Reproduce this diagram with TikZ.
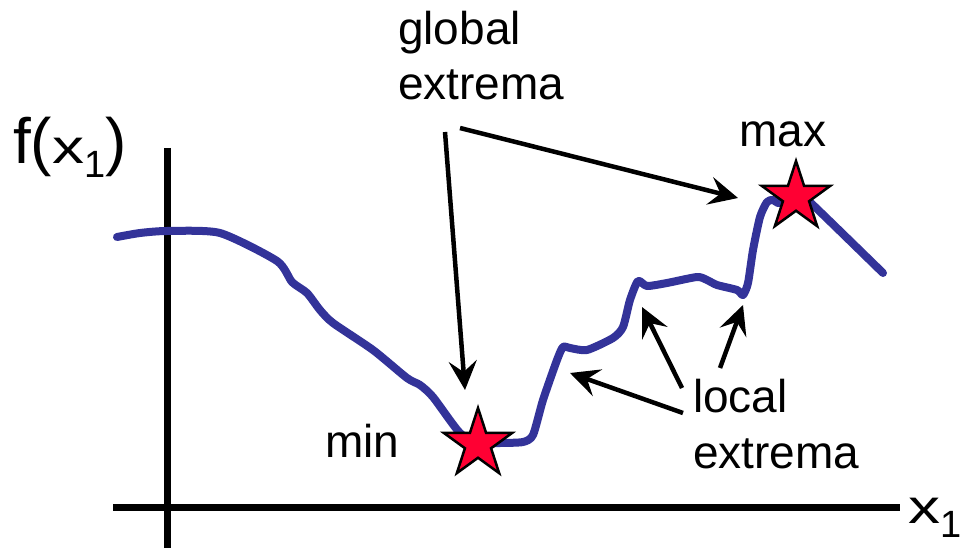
\documentclass[tikz,border=0pt]{standalone}
\usepackage{graphicx}
\usepackage{fontspec}
\setmainfont{Liberation Sans}
\usetikzlibrary{arrows.meta,shapes.geometric}
\definecolor{curveblue}{RGB}{51,51,153}
\definecolor{starred}{RGB}{255,0,51}
\begin{document}
\begin{tikzpicture}[x=1pt,y=-1pt,
  axis/.style={line width=7pt},
  curve/.style={line width=8pt, draw=curveblue, line join=round, line cap=round},
  ptr/.style={line width=4.5pt, -{Stealth[length=29pt,width=28pt,inset=11pt]}},
  lbl/.style={inner sep=0pt, anchor=base west, font=\fontsize{46}{55}\selectfont},
  big/.style={inner sep=0pt, anchor=base west, font=\fontsize{64}{70}\selectfont},
  extremum/.style={star, star points=5, star point ratio=2.618, minimum size=72pt,
    inner sep=0pt, fill=starred, draw=black, line width=2.5pt}]
\useasboundingbox (0,0) rectangle (960,548);

% axes
\coordinate (ytop) at (167,148);
\coordinate (ybot) at (167,548);
\coordinate (xl) at (113,507);
\coordinate (xr) at (900,507);
\draw[axis] (ytop) -- (ybot);
\draw[axis] (xl) -- (xr);

% curve
\draw[curve] plot[smooth, tension=0.4] coordinates {
  (117,237) (140,233) (167,231) (220,233) (277,261) (292,282) (307,293)
  (320,310) (333,323) (373,350) (407,378) (420,385) (433,397) (460,433)
  (480,443) (500,443) (523,442) (533,435) (543,400) (557,360) (563,347)
  (570,348) (587,350) (613,338) (623,327) (630,300) (638,281) (647,286)
  (667,283) (697,277) (707,280) (717,285) (737,290) (743,295) (748,283)
  (753,250) (760,217) (767,202) (773,200) (780,203) (796,191) (813,205)
  (883,273)};

% stars
\node[extremum] (minstar) at (478,444) {};
\node[extremum] (maxstar) at (796,197) {};

% labels
\node[big] (ylabel) at (13,164) {f(\scalebox{1}[0.75]{x}\raisebox{-14pt}{\fontsize{38}{40}\selectfont 1})};
\node[big] (xlabel) at (908,523) {\scalebox{1}[0.75]{x}\raisebox{-14pt}{\fontsize{38}{40}\selectfont 1}};
\node[lbl] (global) at (398,45) {global};
\node[lbl] (globalb) at (398,100) {extrema};
\node[lbl] (maxlbl) at (739,147) {max};
\node[lbl] (minlbl) at (325,457) {min};
\node[lbl] (local) at (693,412) {local};
\node[lbl] (localb) at (693,468) {extrema};

% arrows
\coordinate (g1) at (445,132);
\coordinate (g1t) at (465,390);
\coordinate (g2) at (460,128);
\coordinate (g2t) at (738,198);
\coordinate (l1) at (683,413);
\coordinate (l1t) at (570,373);
\coordinate (l2) at (682,388);
\coordinate (l2t) at (642,307);
\coordinate (l3) at (720,368);
\coordinate (l3t) at (743,305);
\draw[ptr] (g1) -- (g1t);
\draw[ptr] (g2) -- (g2t);
\draw[ptr] (l1) -- (l1t);
\draw[ptr] (l2) -- (l2t);
\draw[ptr] (l3) -- (l3t);
\end{tikzpicture}
\end{document}
